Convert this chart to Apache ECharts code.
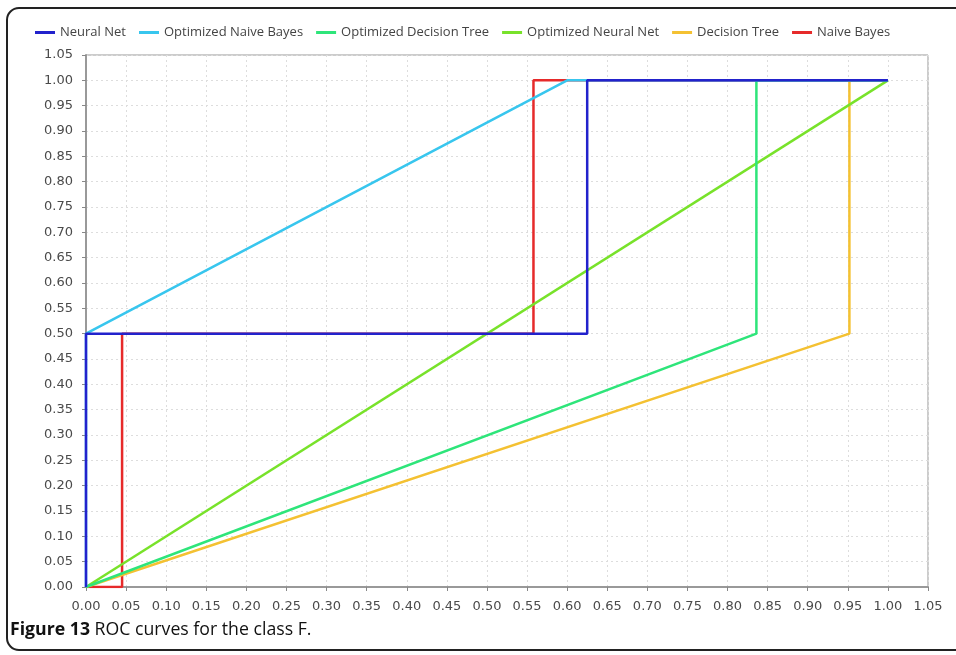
<!DOCTYPE html>
<html><head><meta charset="utf-8">
<script src="https://cdn.jsdelivr.net/npm/echarts@6/dist/echarts.min.js"></script>
<style>html,body{margin:0;padding:0;background:#fff}#c{width:956px;height:655px}</style>
</head><body><div id="c"></div>
<script>
const seriesNames = ['Neural Net','Optimized Naive Bayes','Optimized Decision Tree','Optimized Neural Net','Decision Tree','Naive Bayes'];
const seriesColors = ['#2222cc','#38c6ee','#2ee57a','#78e22a','#f4c132','#e62a2a'];
const neuralNet = [[0,0],[0,0.5],[0.625,0.5],[0.625,1],[1,1]];
const optNaiveBayes = [[0,0],[0,0.5],[0.6,1],[1,1]];
const optDecisionTree = [[0,0],[0.836,0.5],[0.836,1],[1,1]];
const optNeuralNet = [[0,0],[1,1]];
const decisionTree = [[0,0],[0.952,0.5],[0.952,1],[1,1]];
const naiveBayes = [[0,0],[0.045,0],[0.045,0.5],[0.558,0.5],[0.558,1],[1,1]];
const seriesData = [neuralNet,optNaiveBayes,optDecisionTree,optNeuralNet,decisionTree,naiveBayes];
const caption = 'Figure 13';
const captionRest = ' ROC curves for the class F.';

const chart = echarts.init(document.getElementById('c'));
const series = [];
for (let i = seriesNames.length - 1; i >= 0; i--) {
  series.push({
    name: seriesNames[i], type: 'line', data: seriesData[i], showSymbol: false, symbol: 'none',
    lineStyle: {color: seriesColors[i], width: 2.5}, itemStyle: {color: seriesColors[i]}, animation: false
  });
}
const axisCommon = {
  type: 'value', min: 0, max: 1.05, interval: 0.05, offset: 6,
  axisLine: {show: true, lineStyle: {color: '#999', width: 2}},
  axisTick: {show: true, length: 4, lineStyle: {color: '#888'}},
  axisLabel: {color: '#4a4a4a', fontSize: 13, fontFamily: 'DejaVu Sans', formatter: v => v.toFixed(2)},
  splitLine: {show: true, lineStyle: {color: '#ddd', type: [2, 3]}}
};
chart.setOption({
  animation: false,
  grid: {left: 86, right: 28, top: 55, bottom: 68, show: true, borderColor: '#999', borderWidth: 1, containLabel: false},
  legend: {
    data: seriesNames, left: 35, top: 26, padding: 0, itemWidth: 20, itemHeight: 3, itemGap: 13, icon: 'rect',
    textStyle: {color: '#444', fontSize: 13, fontFamily: 'Open Sans'}
  },
  xAxis: Object.assign({}, axisCommon, {axisLabel: Object.assign({}, axisCommon.axisLabel, {margin: 7})}),
  yAxis: Object.assign({}, axisCommon, {axisLabel: Object.assign({}, axisCommon.axisLabel, {margin: 7})}),
  series: series,
  graphic: [
    {type: 'rect', shape: {x: 7, y: 8, width: 970, height: 642, r: 12}, style: {fill: 'none', stroke: '#222', lineWidth: 2}, silent: true},
    {type: 'text', left: 10, top: 621, style: {
      text: '{b|' + caption + '}{r|' + captionRest + '}',
      rich: {b: {fontWeight: 'bold', fontSize: 17.7, fontFamily: 'Open Sans', fill: '#111'}, r: {fontSize: 17.7, fontFamily: 'Open Sans', fill: '#111'}}
    }}
  ]
});
</script></body></html>
